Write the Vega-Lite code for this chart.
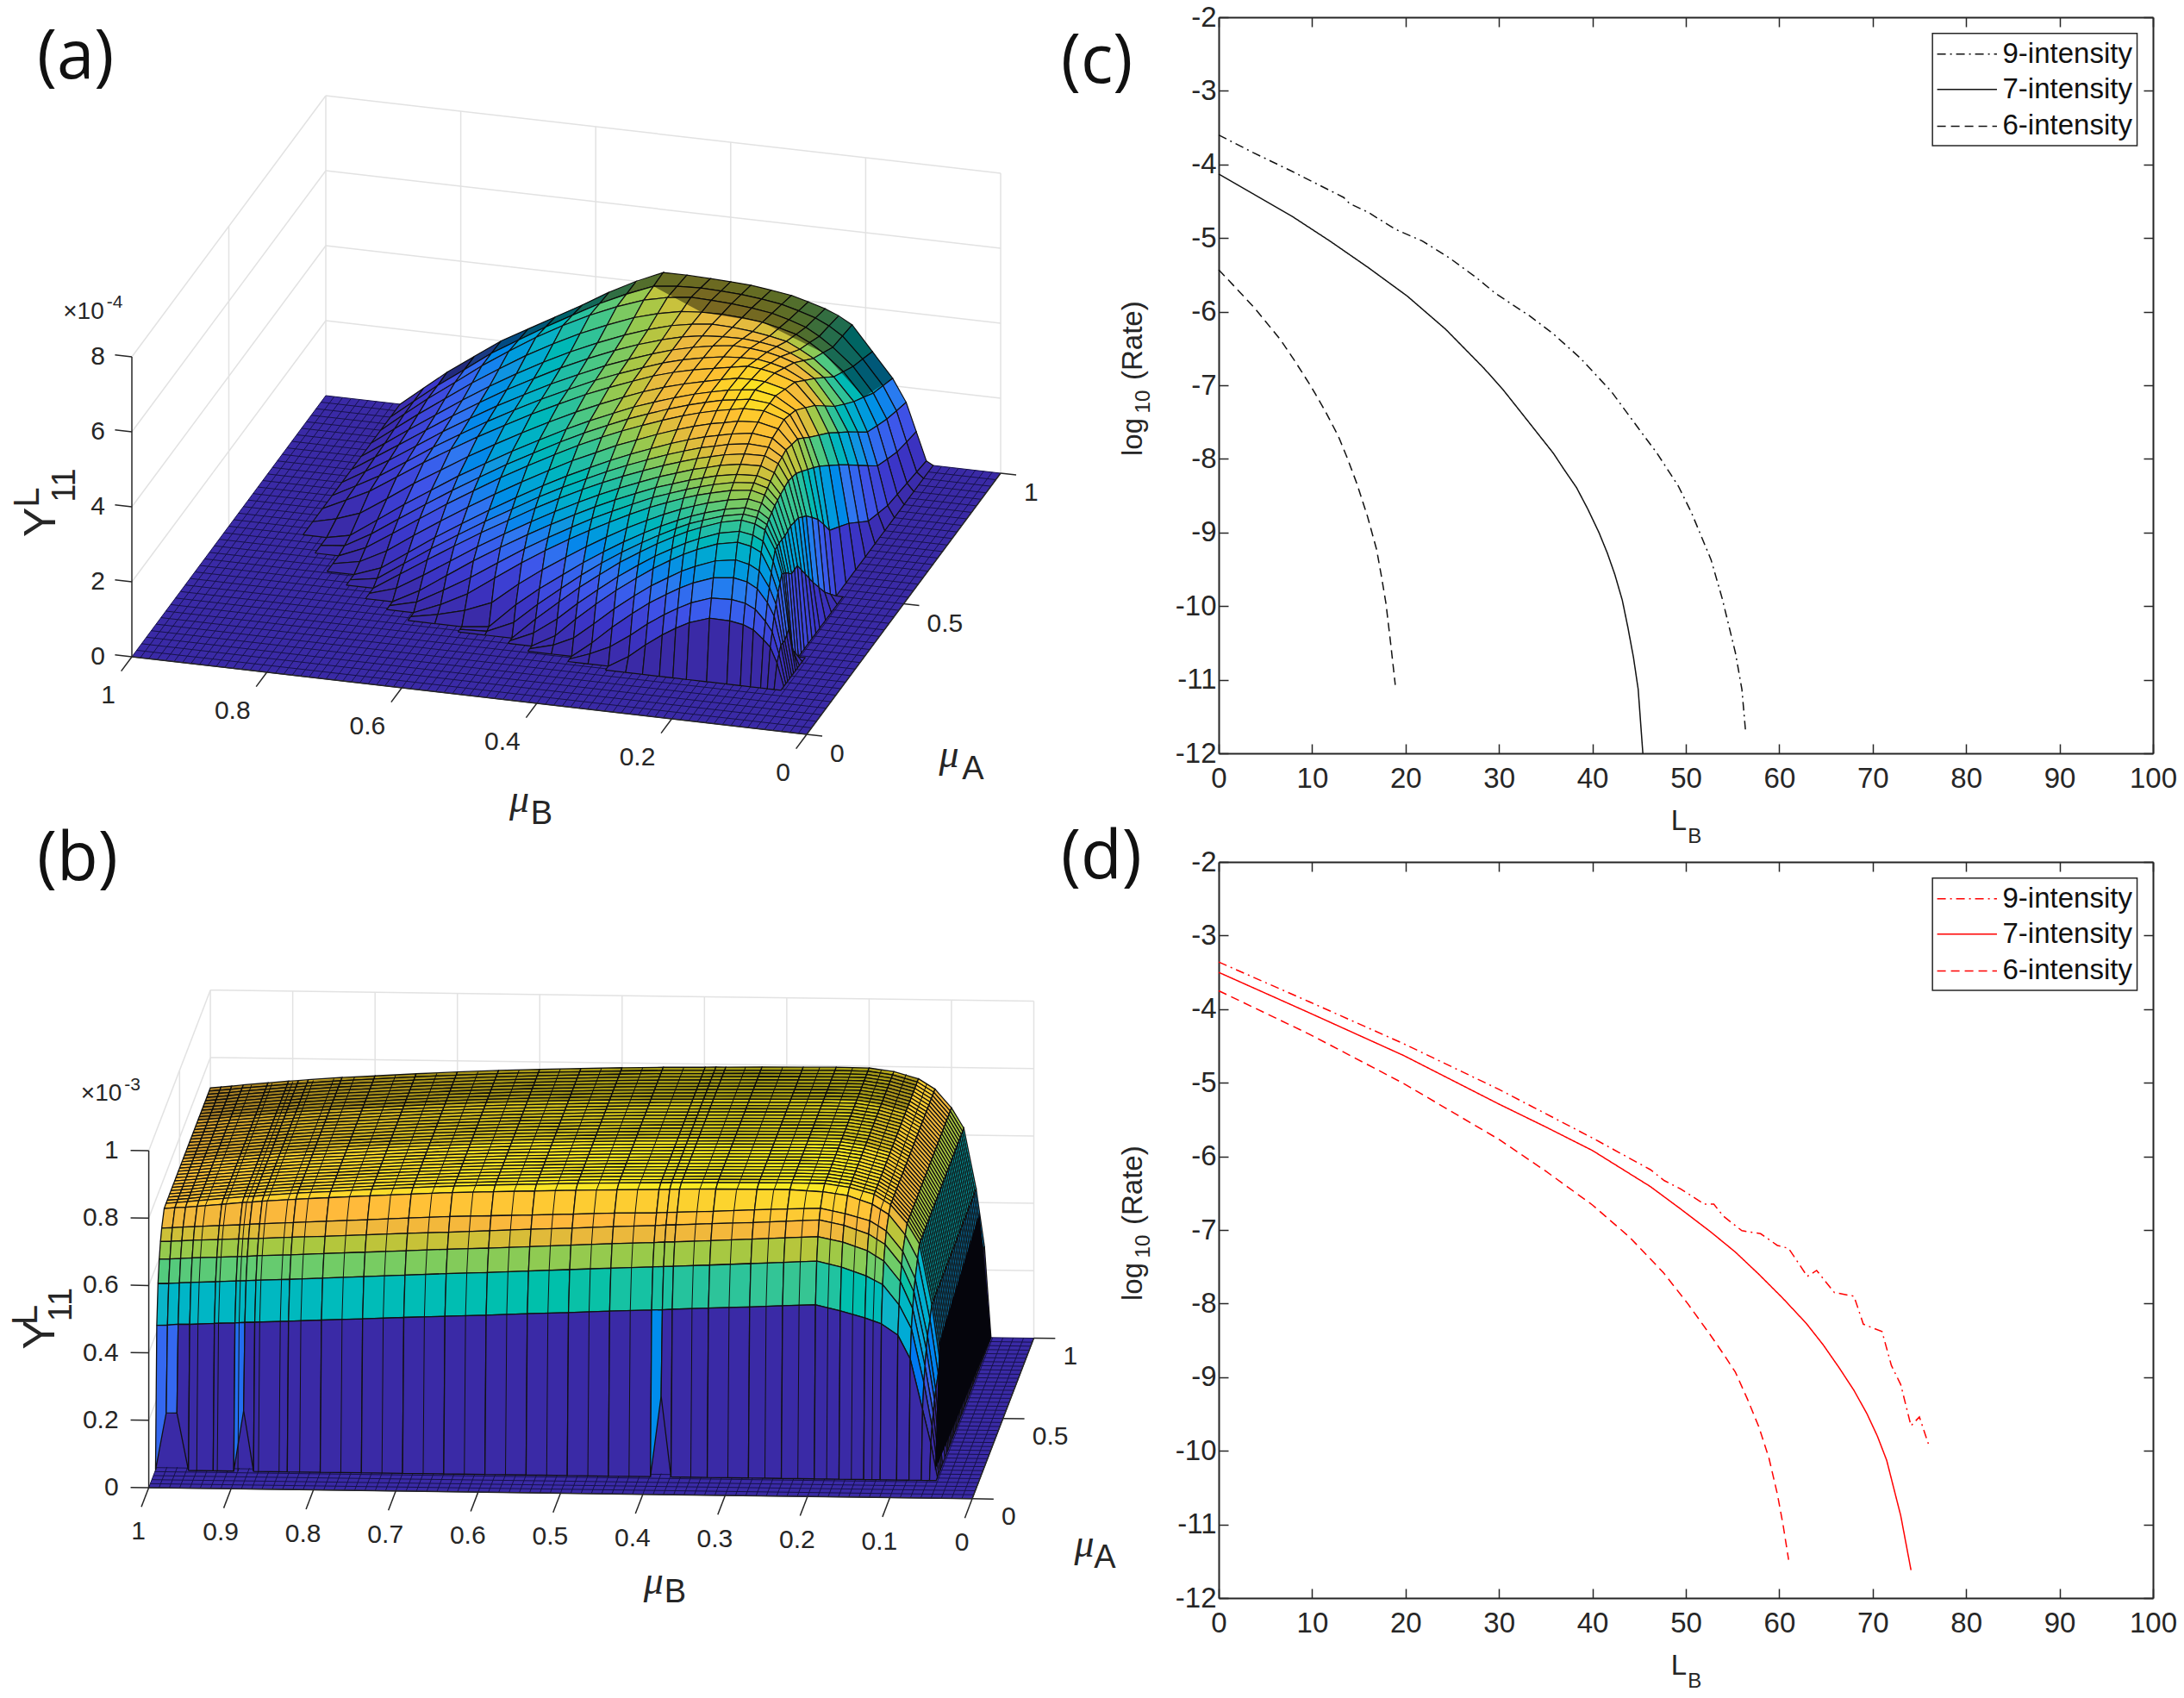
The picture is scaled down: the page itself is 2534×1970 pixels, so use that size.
{
"$schema":"https://vega.github.io/schema/vega-lite/v6.json",
"background":"white",
"padding":{"left":0,"top":4,"right":0,"bottom":0},
"bounds":"flush",
"columns":2,
"spacing":{"column":0,"row":126},
"resolve":{"scale":{"fill":"independent"}},
"config":{"view":{"stroke":null},"text":{"font":"Liberation Sans","color":"#262626"},
"axis":{"grid":false,"title":null,"tickSize":-11,"tickColor":"#262626","tickWidth":1.5,"domainColor":"#262626","domainWidth":2,"labelFont":"Liberation Sans","labelFontSize":33,"labelColor":"#262626","labelOverlap":false,"labelFlush":false,"labelExpr":"datum.value"},
"title":{"font":"Open Sans","fontSize":78,"fontWeight":"normal","color":"#111111","anchor":"start","frame":"group","baseline":"alphabetic","offset":0}},
"datasets":{
"meshB":[{"v":[0.0125,0.025,0.0375,0.05,0.0625,0.075,0.0875,0.1,0.1125,0.125,0.1375,0.15,0.1625,0.175,0.1875,0.2,0.2125,0.225,0.2375,0.25,0.2625,0.275,0.2875,0.3,0.3125,0.325,0.3375,0.35,0.3625,0.375,0.3875,0.4,0.4125,0.425,0.4375,0.45,0.4625,0.475,0.4875,0.5,0.5125,0.525,0.5375,0.55,0.5625,0.575,0.5875,0.6,0.6125,0.625,0.6375,0.65,0.6625,0.675,0.6875,0.7,0.7125,0.725,0.7375,0.75,0.7625,0.775,0.7875,0.8,0.8125,0.825,0.8375,0.85,0.8625,0.875,0.8875,0.9,0.9125,0.925,0.9375,0.95,0.9625,0.975,0.9875]}],
"meshA":[{"v":[0.025,0.05,0.075,0.1,0.125,0.15,0.175,0.2,0.225,0.25,0.275,0.3,0.325,0.35,0.375,0.4,0.425,0.45,0.475,0.5,0.525,0.55,0.575,0.6,0.625,0.65,0.675,0.7,0.725,0.75,0.775,0.8,0.825,0.85,0.875,0.9,0.925,0.95,0.975]}],
"curvesC":[
{"s":"9","L":0,"r":-3.6},{"s":"9","L":3.7,"r":-3.84},{"s":"9","L":7.8,"r":-4.09},{"s":"9","L":13.4,"r":-4.45},{"s":"9","L":14,"r":-4.53},{"s":"9","L":16,"r":-4.65},{"s":"9","L":18.9,"r":-4.88},{"s":"9","L":21.8,"r":-5.04},{"s":"9","L":24.7,"r":-5.27},{"s":"9","L":27.6,"r":-5.54},{"s":"9","L":29.6,"r":-5.75},{"s":"9","L":33.3,"r":-6.06},{"s":"9","L":35.8,"r":-6.3},{"s":"9","L":38.7,"r":-6.63},{"s":"9","L":42,"r":-7.08},{"s":"9","L":44.9,"r":-7.58},{"s":"9","L":46.9,"r":-7.92},{"s":"9","L":49.2,"r":-8.37},{"s":"9","L":50.6,"r":-8.73},{"s":"9","L":52.7,"r":-9.37},{"s":"9","L":53.9,"r":-9.9},{"s":"9","L":55.3,"r":-10.63},{"s":"9","L":56,"r":-11.13},{"s":"9","L":56.4,"r":-11.71},
{"s":"7","L":0,"r":-4.13},{"s":"7","L":3.7,"r":-4.4},{"s":"7","L":7.8,"r":-4.7},{"s":"7","L":11.9,"r":-5.04},{"s":"7","L":16,"r":-5.4},{"s":"7","L":20.2,"r":-5.79},{"s":"7","L":24.3,"r":-6.24},{"s":"7","L":28.4,"r":-6.77},{"s":"7","L":30.5,"r":-7.07},{"s":"7","L":32.5,"r":-7.39},{"s":"7","L":35.8,"r":-7.92},{"s":"7","L":37,"r":-8.15},{"s":"7","L":38.3,"r":-8.39},{"s":"7","L":39.5,"r":-8.68},{"s":"7","L":40.7,"r":-9},{"s":"7","L":41.6,"r":-9.28},{"s":"7","L":42.4,"r":-9.57},{"s":"7","L":43.2,"r":-9.92},{"s":"7","L":43.8,"r":-10.29},{"s":"7","L":44.4,"r":-10.7},{"s":"7","L":44.9,"r":-11.13},{"s":"7","L":45.4,"r":-12},
{"s":"6","L":0,"r":-5.43},{"s":"6","L":3.7,"r":-5.93},{"s":"6","L":5,"r":-6.13},{"s":"6","L":6.6,"r":-6.38},{"s":"6","L":8.2,"r":-6.68},{"s":"6","L":9.9,"r":-7.02},{"s":"6","L":11.4,"r":-7.35},{"s":"6","L":12.8,"r":-7.69},{"s":"6","L":13.8,"r":-8},{"s":"6","L":14.8,"r":-8.34},{"s":"6","L":15.9,"r":-8.77},{"s":"6","L":16.9,"r":-9.23},{"s":"6","L":17.4,"r":-9.58},{"s":"6","L":17.9,"r":-9.96},{"s":"6","L":18.4,"r":-10.5},{"s":"6","L":18.9,"r":-11.07}],
"curvesD":[
{"s":"9","L":0,"r":-3.36},{"s":"9","L":9.7,"r":-3.9},{"s":"9","L":19.8,"r":-4.47},{"s":"9","L":30,"r":-5.09},{"s":"9","L":40,"r":-5.75},{"s":"9","L":46.2,"r":-6.18},{"s":"9","L":47.7,"r":-6.33},{"s":"9","L":49.4,"r":-6.44},{"s":"9","L":52,"r":-6.65},{"s":"9","L":53,"r":-6.65},{"s":"9","L":54,"r":-6.81},{"s":"9","L":56,"r":-7.01},{"s":"9","L":58,"r":-7.05},{"s":"9","L":59.8,"r":-7.21},{"s":"9","L":61,"r":-7.25},{"s":"9","L":63,"r":-7.63},{"s":"9","L":64,"r":-7.55},{"s":"9","L":65.9,"r":-7.85},{"s":"9","L":68,"r":-7.9},{"s":"9","L":69,"r":-8.28},{"s":"9","L":71,"r":-8.38},{"s":"9","L":72,"r":-8.84},{"s":"9","L":73,"r":-9.1},{"s":"9","L":74.1,"r":-9.66},{"s":"9","L":75,"r":-9.54},{"s":"9","L":76,"r":-9.92},
{"s":"7","L":0,"r":-3.5},{"s":"7","L":9.7,"r":-4.05},{"s":"7","L":19.8,"r":-4.63},{"s":"7","L":30,"r":-5.29},{"s":"7","L":35,"r":-5.6},{"s":"7","L":40,"r":-5.92},{"s":"7","L":46.2,"r":-6.41},{"s":"7","L":49.5,"r":-6.72},{"s":"7","L":52.7,"r":-7.03},{"s":"7","L":55.3,"r":-7.3},{"s":"7","L":57.8,"r":-7.6},{"s":"7","L":60.4,"r":-7.93},{"s":"7","L":62.9,"r":-8.27},{"s":"7","L":64.7,"r":-8.56},{"s":"7","L":66.4,"r":-8.87},{"s":"7","L":68,"r":-9.18},{"s":"7","L":69.4,"r":-9.5},{"s":"7","L":70.5,"r":-9.8},{"s":"7","L":71.5,"r":-10.13},{"s":"7","L":73,"r":-10.88},{"s":"7","L":74.1,"r":-11.62},
{"s":"6","L":0,"r":-3.75},{"s":"6","L":9.7,"r":-4.34},{"s":"6","L":19.8,"r":-5.01},{"s":"6","L":30,"r":-5.77},{"s":"6","L":35,"r":-6.2},{"s":"6","L":40,"r":-6.66},{"s":"6","L":44,"r":-7.1},{"s":"6","L":47.6,"r":-7.58},{"s":"6","L":50.2,"r":-8},{"s":"6","L":52.7,"r":-8.44},{"s":"6","L":54,"r":-8.68},{"s":"6","L":55.3,"r":-8.93},{"s":"6","L":56.6,"r":-9.3},{"s":"6","L":57.8,"r":-9.67},{"s":"6","L":58.9,"r":-10.1},{"s":"6","L":59.8,"r":-10.59},{"s":"6","L":60.4,"r":-11},{"s":"6","L":61,"r":-11.48}],
"legendLines":[{"s":"9","L":76.9,"r":-2.5},{"s":"9","L":83.3,"r":-2.5},{"s":"7","L":76.9,"r":-2.98},{"s":"7","L":83.3,"r":-2.98},{"s":"6","L":76.9,"r":-3.48},{"s":"6","L":83.3,"r":-3.48}],
"legendText":[{"t":"9-intensity","L":83.9,"r":-2.5},{"t":"7-intensity","L":83.9,"r":-2.98},{"t":"6-intensity","L":83.9,"r":-3.48}],
"surfA":[
{"a":1,"z":[0,0.5,1,1.5,2,2.4,2.8,3.2,3.63,4,4.32,4.32,4.3,4.28,4.25,4.18,4.1,3.98,3.85,3.7,3.5,2.85,2.2,1.6,0.85,0.1,0,0,0]},
{"a":0.95,"z":[0,0.5,0.99,1.5,2.02,2.45,2.88,3.28,3.67,4.01,4.3,4.37,4.4,4.38,4.35,4.29,4.21,4.09,3.95,3.78,3.55,3,2.35,1.72,0.92,0.15,0,0,0]},
{"a":0.9,"z":[0,0.5,0.99,1.5,2.03,2.5,2.95,3.35,3.71,4.02,4.28,4.42,4.5,4.48,4.45,4.4,4.32,4.2,4.05,3.85,3.6,3.15,2.5,1.85,1,0.2,0,0,0]},
{"a":0.85,"z":[0,0.46,0.92,1.42,1.92,2.38,2.82,3.21,3.57,3.88,4.16,4.34,4.47,4.51,4.52,4.49,4.43,4.33,4.21,4.03,3.8,3.36,2.74,2.02,1.16,0.25,0,0,0]},
{"a":0.8,"z":[0,0.42,0.85,1.33,1.81,2.26,2.68,3.07,3.43,3.75,4.04,4.26,4.44,4.54,4.6,4.58,4.53,4.46,4.37,4.2,4,3.57,2.97,2.2,1.33,0.3,0,0,0]},
{"a":0.75,"z":[0,0.4,0.8,1.27,1.74,2.18,2.6,2.98,3.35,3.68,3.98,4.21,4.41,4.55,4.64,4.68,4.69,4.65,4.58,4.45,4.29,3.9,3.25,2.55,1.68,0.44,0,0,0]},
{"a":0.7,"z":[0,0.37,0.74,1.2,1.67,2.1,2.52,2.9,3.27,3.6,3.92,4.16,4.38,4.55,4.68,4.78,4.85,4.83,4.78,4.7,4.58,4.22,3.54,2.9,2.04,0.58,0,0,0]},
{"a":0.65,"z":[0,0.33,0.67,1.13,1.6,2.03,2.45,2.84,3.21,3.55,3.88,4.13,4.36,4.55,4.7,4.81,4.9,4.93,4.94,4.88,4.79,4.52,3.9,3.23,2.4,0.9,0,0,0]},
{"a":0.6,"z":[0,0.3,0.61,1.07,1.54,1.97,2.39,2.78,3.16,3.51,3.85,4.11,4.35,4.55,4.71,4.84,4.94,5.02,5.1,5.07,5,4.82,4.26,3.57,2.75,1.22,0,0,0]},
{"a":0.55,"z":[0,0.15,0.37,0.84,1.33,1.77,2.21,2.62,3.01,3.38,3.73,4.01,4.27,4.48,4.66,4.81,4.94,5.04,5.13,5.14,5.12,4.98,4.55,3.86,3.08,1.48,0,0,0]},
{"a":0.5,"z":[0,0,0.13,0.62,1.12,1.58,2.04,2.46,2.87,3.25,3.62,3.92,4.19,4.42,4.61,4.79,4.95,5.06,5.16,5.21,5.25,5.15,4.83,4.15,3.41,1.73,0,0,0]},
{"a":0.47,"z":[0,0,0.06,0.46,0.94,1.41,1.87,2.3,2.72,3.11,3.49,3.8,4.08,4.31,4.51,4.7,4.87,4.99,5.1,5.15,5.21,5.16,4.92,4.34,3.58,2.1,0.26,0,0]},
{"a":0.44,"z":[0,0,0,0.3,0.76,1.24,1.71,2.15,2.58,2.98,3.36,3.68,3.97,4.2,4.41,4.61,4.79,4.92,5.03,5.1,5.17,5.17,5,4.52,3.74,2.44,0.52,0,0]},
{"a":0.41,"z":[0,0,0,0.14,0.51,1,1.47,1.92,2.35,2.76,3.15,3.48,3.77,4.02,4.23,4.44,4.63,4.77,4.89,4.96,5.04,5.08,4.96,4.58,3.9,2.7,0.86,0,0]},
{"a":0.38,"z":[0,0,0,0,0.26,0.75,1.24,1.69,2.13,2.55,2.95,3.28,3.58,3.83,4.06,4.27,4.47,4.62,4.75,4.83,4.91,4.99,4.92,4.65,4.05,2.95,1.2,0,0]},
{"a":0.36,"z":[0,0,0,0,0.12,0.6,1.08,1.53,1.97,2.38,2.79,3.12,3.42,3.67,3.9,4.11,4.31,4.46,4.6,4.68,4.77,4.85,4.82,4.6,4.09,3.06,1.45,0,0]},
{"a":0.34,"z":[0,0,0,0,0,0.46,0.92,1.37,1.81,2.22,2.63,2.96,3.27,3.52,3.75,3.96,4.16,4.31,4.45,4.54,4.63,4.72,4.73,4.56,4.13,3.18,1.7,0,0]},
{"a":0.32,"z":[0,0,0,0,0,0.22,0.65,1.11,1.57,2,2.41,2.75,3.07,3.33,3.57,3.79,4,4.15,4.3,4.39,4.49,4.58,4.6,4.46,4.09,3.21,1.95,0,0]},
{"a":0.3,"z":[0,0,0,0,0,0,0.38,0.86,1.34,1.78,2.2,2.55,2.88,3.15,3.4,3.63,3.85,4,4.15,4.25,4.35,4.45,4.48,4.37,4.05,3.24,2.2,0,0]},
{"a":0.285,"z":[0,0,0,0,0,0,0.18,0.58,1,1.47,1.93,2.3,2.65,2.94,3.2,3.45,3.69,3.85,4.01,4.12,4.22,4.34,4.39,4.29,4,3.21,2.2,0,0]},
{"a":0.27,"z":[0,0,0,0,0,0,0,0.3,0.67,1.17,1.66,2.06,2.43,2.73,3.01,3.28,3.53,3.71,3.88,4,4.1,4.23,4.3,4.21,3.96,3.18,2.19,0,0]},
{"a":0.255,"z":[0,0,0,0,0,0,0,0.14,0.33,0.62,1.2,1.65,2.06,2.4,2.72,3.02,3.29,3.5,3.69,3.82,3.94,4.08,4.17,4.1,3.88,3.19,2.31,0.2,0]},
{"a":0.24,"z":[0,0,0,0,0,0,0,0,0,0.08,0.75,1.25,1.7,2.08,2.43,2.76,3.06,3.29,3.5,3.65,3.78,3.94,4.04,3.99,3.81,3.2,2.43,0.4,0]},
{"a":0.23,"z":[0,0,0,0,0,0,0,0,0,0.03,0.35,0.9,1.4,1.82,2.2,2.55,2.87,3.12,3.35,3.52,3.65,3.83,3.94,3.89,3.73,3.18,2.48,0.74,0]},
{"a":0.22,"z":[0,0,0,0,0,0,0,0,0,0,0,0.58,1.11,1.56,1.96,2.35,2.69,2.96,3.2,3.38,3.53,3.73,3.85,3.79,3.66,3.16,2.54,1.08,0]},
{"a":0.21,"z":[0,0,0,0,0,0,0,0,0,0,0,0.28,0.73,1.2,1.63,2.04,2.41,2.7,2.95,3.14,3.3,3.51,3.62,3.56,3.43,2.92,2.36,1,0]},
{"a":0.2,"z":[0,0,0,0,0,0,0,0,0,0,0,0,0.35,0.85,1.31,1.74,2.13,2.44,2.71,2.91,3.08,3.29,3.4,3.33,3.2,2.69,2.18,0.92,0]},
{"a":0.19,"z":[0,0,0,0,0,0,0,0,0,0,0,0,0.17,0.42,0.86,1.32,1.73,2.05,2.32,2.53,2.7,2.91,3,2.92,2.78,2.36,1.93,0.93,0]},
{"a":0.18,"z":[0,0,0,0,0,0,0,0,0,0,0,0,0,0,0.42,0.9,1.33,1.66,1.94,2.15,2.33,2.53,2.59,2.52,2.37,2.03,1.69,0.94,0]},
{"a":0.17,"z":[0,0,0,0,0,0,0,0,0,0,0,0,0,0,0.2,0.45,0.82,1.17,1.47,1.68,1.87,2.06,2.08,2.02,1.89,1.6,1.34,0.77,0]},
{"a":0.16,"z":[0,0,0,0,0,0,0,0,0,0,0,0,0,0,0,0,0.32,0.68,1,1.22,1.41,1.59,1.58,1.52,1.41,1.18,1,0.6,0]},
{"a":0.145,"z":[0,0,0,0,0,0,0,0,0,0,0,0,0,0,0,0,0,0,0,0,0,0,0,0,0,0,0,0,0]}],
"surfB":[
{"a":[1,0.98,0.96,0.94,0.92,0.9,0.88,0.86,0.84,0.82,0.8,0.78,0.76,0.74,0.72,0.7,0.68,0.66,0.64,0.62,0.6,0.58,0.56,0.54,0.52,0.5,0.48,0.46,0.44,0.42,0.4,0.38,0.36,0.34,0.32,0.3,0.28],"z":[0.71,0.713,0.716,0.72,0.727,0.733,0.735,0.738,0.746,0.752,0.76,0.767,0.773,0.778,0.782,0.786,0.789,0.791,0.792,0.792,0.794,0.795,0.796,0.795,0.785,0.765,0.735,0.68,0.62,0.44,0.27,0,0]},
{"a":[0.25],"z":[0.709,0.712,0.714,0.717,0.724,0.73,0.732,0.735,0.742,0.748,0.755,0.762,0.768,0.772,0.776,0.78,0.783,0.785,0.786,0.787,0.789,0.79,0.79,0.785,0.775,0.75,0.72,0.66,0.59,0.41,0.25,0,0]},
{"a":[0.21],"z":[0.67,0.672,0.674,0.676,0.68,0.683,0.685,0.687,0.692,0.697,0.703,0.71,0.716,0.72,0.724,0.728,0.733,0.735,0.737,0.738,0.742,0.748,0.752,0.755,0.74,0.72,0.69,0.63,0.55,0.38,0.22,0,0]},
{"a":[0.19],"z":[0.64,0.641,0.643,0.645,0.648,0.651,0.652,0.653,0.658,0.662,0.668,0.674,0.679,0.685,0.691,0.696,0.702,0.707,0.709,0.71,0.715,0.72,0.725,0.73,0.715,0.69,0.66,0.6,0.52,0.35,0.2,0,0]},
{"a":[0.17],"z":[0.597,0.598,0.6,0.602,0.605,0.608,0.609,0.611,0.615,0.62,0.626,0.632,0.638,0.643,0.649,0.655,0.661,0.666,0.668,0.669,0.674,0.68,0.685,0.69,0.675,0.65,0.62,0.56,0.48,0.31,0.17,0,0]},
{"a":[0.15],"z":[0.534,0.535,0.537,0.539,0.542,0.545,0.546,0.548,0.552,0.557,0.563,0.569,0.575,0.58,0.586,0.592,0.598,0.603,0.605,0.606,0.611,0.617,0.622,0.627,0.61,0.585,0.56,0.5,0.43,0.27,0.14,0,0]},
{"a":[0.13],"z":[0.42,0.421,0.424,0.424,0.428,0.43,0.432,0.433,0.437,0.442,0.447,0.453,0.458,0.463,0.469,0.474,0.48,0.485,0.486,0.488,0.493,0.498,0.503,0.507,0.49,0.47,0.453,0.42,0.35,0.2,0.1,0,0]},
{"a":[0.11],"z":[0,0.17,0.17,0,0,0,0.18,0,0,0,0,0,0,0,0,0,0,0,0.24,0,0,0,0,0,0,0,0,0,0,0,0,0,0]}],
"linesB":[
{"b":0.95,"z":[0,0.425,0.54,0.603,0.646,0.677,0.719,0.72]},{"b":0.925,"z":[0,0.428,0.543,0.606,0.649,0.68,0.724,0.726]},{"b":0.9,"z":[0,0.431,0.546,0.609,0.651,0.684,0.729,0.731]},{"b":0.875,"z":[0,0.434,0.548,0.611,0.654,0.687,0.733,0.736]},{"b":0.85,"z":[0,0.436,0.551,0.614,0.657,0.69,0.738,0.742]},{"b":0.825,"z":[0,0.439,0.554,0.617,0.66,0.694,0.743,0.747]},{"b":0.775,"z":[0,0.445,0.56,0.623,0.665,0.7,0.751,0.755]},{"b":0.725,"z":[0,0.45,0.566,0.629,0.671,0.706,0.757,0.762]},{"b":0.675,"z":[0,0.455,0.572,0.634,0.676,0.711,0.763,0.768]},{"b":0.625,"z":[0,0.461,0.578,0.64,0.682,0.717,0.769,0.775]},{"b":0.575,"z":[0,0.466,0.583,0.646,0.688,0.722,0.774,0.78]},{"b":0.525,"z":[0,0.471,0.589,0.652,0.693,0.726,0.778,0.784]},{"b":0.475,"z":[0,0.477,0.595,0.658,0.699,0.73,0.781,0.787]},{"b":0.425,"z":[0,0.482,0.6,0.663,0.704,0.734,0.784,0.79]},{"b":0.35,"z":[0,0.491,0.609,0.672,0.713,0.74,0.785,0.793]},{"b":0.305,"z":[0,0.496,0.614,0.678,0.718,0.745,0.785,0.794]},{"b":0.26,"z":[0,0.501,0.62,0.684,0.724,0.75,0.785,0.795]},{"b":0.22,"z":[0,0.504,0.624,0.687,0.727,0.753,0.785,0.795]},{"b":0.185,"z":[0,0.497,0.618,0.683,0.723,0.748,0.78,0.79]},{"b":0.155,"z":[0,0.478,0.598,0.663,0.703,0.733,0.763,0.778]},{"b":0.13,"z":[0,0.46,0.57,0.635,0.675,0.705,0.735,0.75]}]
},
"concat":[
{"width":1414,"height":854,"title":{"text":"(a)","dx":43,"dy":91},
"encoding":{"x":{"field":"sx","type":"quantitative","axis":null,"scale":{"domain":[0,1414],"nice":false,"zero":false}},"y":{"field":"sy","type":"quantitative","axis":null,"scale":{"domain":[873,19],"nice":false,"zero":false}}},
"layer":[
{"data":{"values":[{"b":[1,0],"a":[1,1],"z":[2,2]},{"b":[1,0],"a":[1,1],"z":[4,4]},{"b":[1,0],"a":[1,1],"z":[6,6]},{"b":[1,0],"a":[1,1],"z":[8,8]},{"b":[1,1],"a":[0,1],"z":[2,2]},{"b":[1,1],"a":[0,1],"z":[4,4]},{"b":[1,1],"a":[0,1],"z":[6,6]},{"b":[1,1],"a":[0,1],"z":[8,8]},{"b":[1,1],"a":[1,1],"z":[0,8]},{"b":[0.8,0.8],"a":[1,1],"z":[0,8]},{"b":[0.6,0.6],"a":[1,1],"z":[0,8]},{"b":[0.4,0.4],"a":[1,1],"z":[0,8]},{"b":[0.2,0.2],"a":[1,1],"z":[0,8]},{"b":[0,0],"a":[1,1],"z":[0,8]},{"b":[1,1],"a":[0.5,0.5],"z":[0,8]}]},
"transform":[{"window":[{"op":"row_number","as":"id"}]},{"flatten":["b","a","z"]},{"calculate":"936-783*datum.b+225*datum.a","as":"sx"},{"calculate":"851-90*datum.b-303*datum.a-43.5*datum.z","as":"sy"}],
"mark":{"type":"line","stroke":"#e2e2e2","strokeWidth":1.5},"encoding":{"detail":{"field":"id"}}},
{"data":{"values":[{"b":[1,0,0,1,1],"a":[0,0,1,1,0],"z":[0,0,0,0,0],"k":[0,1,2,3,4]}]},
"transform":[{"flatten":["b","a","z","k"]},{"calculate":"936-783*datum.b+225*datum.a","as":"sx"},{"calculate":"851-90*datum.b-303*datum.a-43.5*datum.z","as":"sy"}],
"mark":{"type":"line","fill":"#3a2aa6","stroke":"#16124a","strokeWidth":1},"encoding":{"order":{"field":"k"}}},
{"data":{"name":"meshB"},"transform":[{"flatten":["v"]},{"calculate":"[0,1]","as":"a"},{"flatten":["a"]},{"calculate":"936-783*datum.v+225*datum.a","as":"sx"},{"calculate":"851-90*datum.v-303*datum.a","as":"sy"}],
"mark":{"type":"line","stroke":"#16124a","strokeWidth":1},"encoding":{"detail":{"field":"v"}}},
{"data":{"name":"meshA"},"transform":[{"flatten":["v"]},{"calculate":"[0,1]","as":"b"},{"flatten":["b"]},{"calculate":"936-783*datum.b+225*datum.v","as":"sx"},{"calculate":"851-90*datum.b-303*datum.v","as":"sy"}],
"mark":{"type":"line","stroke":"#16124a","strokeWidth":1},"encoding":{"detail":{"field":"v"}}},
{"data":{"name":"surfA"},
"transform":[{"window":[{"op":"lag","field":"a","as":"a1"},{"op":"lag","field":"z","as":"zb"}]},{"filter":"datum.a1 != null"},{"calculate":"[0.89,0.855,0.82,0.78,0.74,0.7,0.66,0.62,0.58,0.54,0.5,0.465,0.43,0.4,0.37,0.34,0.31,0.285,0.26,0.24,0.22,0.19,0.16,0.14,0.125,0.11,0.1,0.09,0.08]","as":"bs"},{"calculate":"slice(datum.bs,0,-1)","as":"b0"},{"calculate":"slice(datum.bs,1)","as":"b1"},{"calculate":"slice(datum.z,0,-1)","as":"f0"},{"calculate":"slice(datum.z,1)","as":"f1"},{"calculate":"slice(datum.zb,0,-1)","as":"g0"},{"calculate":"slice(datum.zb,1)","as":"g1"},{"flatten":["b0","b1","f0","f1","g0","g1"]},{"filter":"datum.f0+datum.f1+datum.g0+datum.g1>0"},{"window":[{"op":"row_number","as":"id"}]},{"calculate":"(datum.f0+datum.f1)/2","as":"v"},{"calculate":"[datum.b0,datum.b1,datum.b1,datum.b0,datum.b0]","as":"pb"},{"calculate":"[datum.a,datum.a,datum.a1,datum.a1,datum.a]","as":"pa"},{"calculate":"[datum.f0,datum.f1,datum.g1,datum.g0,datum.f0]","as":"pz"},{"calculate":"[0,1,2,3,4]","as":"k"},{"flatten":["pb","pa","pz","k"]},{"calculate":"936-783*datum.pb+225*datum.pa","as":"sx"},{"calculate":"851-90*datum.pb-303*datum.pa-43.5*datum.pz","as":"sy"}],
"mark":{"type":"line","stroke":"#111111","strokeWidth":1.2},
"encoding":{"detail":{"field":"id"},"order":{"field":"k"},"fill":{"field":"v","type":"quantitative","legend":null,"scale":{"domain":[0,0.7,1.4,2,2.5,3,3.4,3.8,4.2,4.6,5,5.3],"range":["#3a2aa6","#3b35c8","#3e55ea","#2f78f0","#1596e0","#0cb0c8","#20bca8","#50c880","#a0c84a","#ecb940","#fdc030","#f8ec20"]}}}},
{"data":{"values":[{"b":[0.82,0.74,0.66,0.58,0.5,0.43,0.37,0.31,0.26,0.22,0.19,0.16,0.16,0.22,0.31,0.4,0.5,0.58,0.66,0.74,0.82],"a":[1,1,1,1,1,1,1,1,1,1,1,1,0.85,0.85,0.85,0.85,0.95,0.95,0.95,0.95,0.95],"z":[1,2,2.8,3.63,4.32,4.3,4.25,4.1,3.85,3.5,2.85,2.2,2.74,3.8,4.43,4.51,4.3,3.67,2.88,2.02,0.99],"k":[0,1,2,3,4,5,6,7,8,9,10,11,12,13,14,15,16,17,18,19,20]}]},
"transform":[{"flatten":["b","a","z","k"]},{"calculate":"936-783*datum.b+225*datum.a","as":"sx"},{"calculate":"851-90*datum.b-303*datum.a-43.5*datum.z","as":"sy"}],
"mark":{"type":"line","fill":"#000000","fillOpacity":0.45,"stroke":null},"encoding":{"order":{"field":"k"}}},
{"data":{"values":[{"b":[1,1],"a":[0,0],"z":[0,8]},{"b":[1,0],"a":[0,0],"z":[0,0]},{"b":[0,0],"a":[0,1],"z":[0,0]},{"b":[1,1.025],"a":[0,0],"z":[0,0]},{"b":[1,1.025],"a":[0,0],"z":[2,2]},{"b":[1,1.025],"a":[0,0],"z":[4,4]},{"b":[1,1.025],"a":[0,0],"z":[6,6]},{"b":[1,1.025],"a":[0,0],"z":[8,8]},{"b":[1,1],"a":[0,-0.055],"z":[0,0]},{"b":[0.8,0.8],"a":[0,-0.055],"z":[0,0]},{"b":[0.6,0.6],"a":[0,-0.055],"z":[0,0]},{"b":[0.4,0.4],"a":[0,-0.055],"z":[0,0]},{"b":[0.2,0.2],"a":[0,-0.055],"z":[0,0]},{"b":[0,0],"a":[0,-0.055],"z":[0,0]},{"b":[0,-0.023],"a":[0,0],"z":[0,0]},{"b":[0,-0.023],"a":[0.5,0.5],"z":[0,0]},{"b":[0,-0.023],"a":[1,1],"z":[0,0]}]},
"transform":[{"window":[{"op":"row_number","as":"id"}]},{"flatten":["b","a","z"]},{"calculate":"936-783*datum.b+225*datum.a","as":"sx"},{"calculate":"851-90*datum.b-303*datum.a-43.5*datum.z","as":"sy"}],
"mark":{"type":"line","stroke":"#262626","strokeWidth":1.5},"encoding":{"detail":{"field":"id"}}},
{"data":{"values":[{"g":"zt","b":1,"a":0,"z":0,"t":"0"},{"g":"zt","b":1,"a":0,"z":2,"t":"2"},{"g":"zt","b":1,"a":0,"z":4,"t":"4"},{"g":"zt","b":1,"a":0,"z":6,"t":"6"},{"g":"zt","b":1,"a":0,"z":8,"t":"8"},{"g":"bt","b":1,"a":0,"z":0,"t":"1"},{"g":"bt","b":0.8,"a":0,"z":0,"t":"0.8"},{"g":"bt","b":0.6,"a":0,"z":0,"t":"0.6"},{"g":"bt","b":0.4,"a":0,"z":0,"t":"0.4"},{"g":"bt","b":0.2,"a":0,"z":0,"t":"0.2"},{"g":"bt","b":0,"a":0,"z":0,"t":"0"},{"g":"at","b":0,"a":0,"z":0,"t":"0"},{"g":"at","b":0,"a":0.5,"z":0,"t":"0.5"},{"g":"at","b":0,"a":1,"z":0,"t":"1"},{"g":"e1","b":1,"a":0,"z":8,"t":"×10"},{"g":"e2","b":1,"a":0,"z":8,"t":"-4"},{"g":"Y","b":1,"a":0,"z":4,"t":"Y"},{"g":"L","b":1,"a":0,"z":4,"t":"L"},{"g":"n","b":1,"a":0,"z":4,"t":"11"},{"g":"m1","b":0.5,"a":0,"z":0,"t":"μ"},{"g":"m2","b":0.5,"a":0,"z":0,"t":"B"},{"g":"m3","b":0,"a":0,"z":0,"t":"μ"},{"g":"m4","b":0,"a":0,"z":0,"t":"A"}]},
"transform":[{"calculate":"936-783*datum.b+225*datum.a","as":"sx"},{"calculate":"851-90*datum.b-303*datum.a-43.5*datum.z","as":"sy"}],
"encoding":{"text":{"field":"t"}},
"layer":[
{"transform":[{"filter":"datum.g=='zt'"}],"mark":{"type":"text","align":"right","dx":-31,"fontSize":30}},
{"transform":[{"filter":"datum.g=='bt'"}],"mark":{"type":"text","align":"right","dx":-19,"dy":45,"fontSize":30}},
{"transform":[{"filter":"datum.g=='at'"}],"mark":{"type":"text","align":"left","dx":27,"dy":23,"fontSize":30}},
{"transform":[{"filter":"datum.g=='e1'"}],"mark":{"type":"text","dx":-56,"dy":-52,"fontSize":28}},
{"transform":[{"filter":"datum.g=='e2'"}],"mark":{"type":"text","dx":-20,"dy":-63,"fontSize":21}},
{"transform":[{"filter":"datum.g=='Y'"}],"mark":{"type":"text","angle":270,"dx":-18,"dy":-105,"fontSize":52}},
{"transform":[{"filter":"datum.g=='L'"}],"mark":{"type":"text","angle":270,"dx":11,"dy":-121,"fontSize":42}},
{"transform":[{"filter":"datum.g=='n'"}],"mark":{"type":"text","angle":270,"dx":25,"dy":-77,"fontSize":38}},
{"transform":[{"filter":"datum.g=='m1'"}],"mark":{"type":"text","font":"Liberation Serif","fontStyle":"italic","dx":58,"dy":121,"fontSize":46}},
{"transform":[{"filter":"datum.g=='m2'"}],"mark":{"type":"text","dx":84,"dy":138,"fontSize":38}},
{"transform":[{"filter":"datum.g=='m3'"}],"mark":{"type":"text","font":"Liberation Serif","fontStyle":"italic","dx":165,"dy":24,"fontSize":46}},
{"transform":[{"filter":"datum.g=='m4'"}],"mark":{"type":"text","dx":193,"dy":41,"fontSize":38}}
]}
]},
{"width":1084,"height":854,"title":{"text":"(c)","dx":-183,"dy":112},
"resolve":{"axis":{"x":"independent","y":"independent"}},
"encoding":{"x":{"field":"L","type":"quantitative","axis":null,"scale":{"domain":[0,100],"nice":false}},"y":{"field":"r","type":"quantitative","axis":null,"scale":{"domain":[-12,-2],"nice":false,"zero":false}}},
"layer":[
{"data":{"name":"curvesC"},"mark":{"type":"line","color":"#111111","strokeWidth":1.5},
"encoding":{"x":{"field":"L","type":"quantitative","scale":{"domain":[0,100],"nice":false},"axis":{"orient":"bottom","values":[0,10,20,30,40,50,60,70,80,90,100],"labelPadding":24}},
"y":{"field":"r","type":"quantitative","scale":{"domain":[-12,-2],"nice":false,"zero":false},"axis":{"orient":"left","values":[-12,-11,-10,-9,-8,-7,-6,-5,-4,-3,-2],"labelPadding":14}},
"strokeDash":{"field":"s","type":"nominal","legend":null,"scale":{"domain":["9","7","6"],"range":[[10,5,2,5],[1,0],[10,6]]}}}},
{"data":{"name":"curvesC"},"mark":{"type":"line","opacity":0},
"encoding":{"x":{"field":"L","type":"quantitative","scale":{"domain":[0,100],"nice":false},"axis":{"orient":"top","values":[0,10,20,30,40,50,60,70,80,90,100],"labels":false}},
"y":{"field":"r","type":"quantitative","scale":{"domain":[-12,-2],"nice":false,"zero":false},"axis":{"orient":"right","values":[-12,-11,-10,-9,-8,-7,-6,-5,-4,-3,-2],"labels":false}},"detail":{"field":"s"}}},
{"data":{"values":[{"x0":76.4,"x1":98.3,"y0":-2.22,"y1":-3.745}]},"mark":{"type":"rect","fill":"white","stroke":"#262626","strokeWidth":1.5},
"encoding":{"x":{"field":"x0","type":"quantitative","axis":null,"scale":{"domain":[0,100],"nice":false}},"x2":{"field":"x1"},"y":{"field":"y0","type":"quantitative","axis":null,"scale":{"domain":[-12,-2],"nice":false,"zero":false}},"y2":{"field":"y1"}}},
{"data":{"name":"legendLines"},"mark":{"type":"line","color":"#111111","strokeWidth":1.5},
"encoding":{"strokeDash":{"field":"s","type":"nominal","legend":null,"scale":{"domain":["9","7","6"],"range":[[10,5,2,5],[1,0],[10,6]]}}}},
{"data":{"name":"legendText"},"mark":{"type":"text","align":"left","fontSize":33,"color":"#111111"},"encoding":{"text":{"field":"t"}}},
{"data":{"values":[{"L":48.4,"r":-13.04,"t":"L"}]},"mark":{"type":"text","align":"left","baseline":"alphabetic","fontSize":33},"encoding":{"text":{"field":"t"}}},
{"data":{"values":[{"L":50.2,"r":-13.22,"t":"B"}]},"mark":{"type":"text","align":"left","baseline":"alphabetic","fontSize":24},"encoding":{"text":{"field":"t"}}},
{"data":{"values":[{"L":-8.2,"r":-7.96,"t":"log"},{"L":-8.2,"r":-6.93,"t":"(Rate)"}]},"mark":{"type":"text","align":"left","baseline":"alphabetic","angle":270,"fontSize":33},"encoding":{"text":{"field":"t"}}},
{"data":{"values":[{"L":-7.4,"r":-7.38,"t":"10"}]},"mark":{"type":"text","align":"left","baseline":"alphabetic","angle":270,"fontSize":24},"encoding":{"text":{"field":"t"}}}
]},
{"width":1414,"height":854,"title":{"text":"(b)","dx":43,"dy":41},
"encoding":{"x":{"field":"sx","type":"quantitative","axis":null,"scale":{"domain":[0,1414],"nice":false,"zero":false}},"y":{"field":"sy","type":"quantitative","axis":null,"scale":{"domain":[1853,999],"nice":false,"zero":false}}},
"layer":[
{"data":{"values":[{"b":[1,0],"a":[1,1],"z":[0.2,0.2]},{"b":[1,0],"a":[1,1],"z":[0.4,0.4]},{"b":[1,0],"a":[1,1],"z":[0.6,0.6]},{"b":[1,0],"a":[1,1],"z":[0.8,0.8]},{"b":[1,0],"a":[1,1],"z":[1,1]},{"b":[1,1],"a":[0,1],"z":[0.2,0.2]},{"b":[1,1],"a":[0,1],"z":[0.4,0.4]},{"b":[1,1],"a":[0,1],"z":[0.6,0.6]},{"b":[1,1],"a":[0,1],"z":[0.8,0.8]},{"b":[1,1],"a":[0,1],"z":[1,1]},{"b":[1,1],"a":[1,1],"z":[0,1]},{"b":[0.9,0.9],"a":[1,1],"z":[0,1]},{"b":[0.8,0.8],"a":[1,1],"z":[0,1]},{"b":[0.7,0.7],"a":[1,1],"z":[0,1]},{"b":[0.6,0.6],"a":[1,1],"z":[0,1]},{"b":[0.5,0.5],"a":[1,1],"z":[0,1]},{"b":[0.4,0.4],"a":[1,1],"z":[0,1]},{"b":[0.3,0.3],"a":[1,1],"z":[0,1]},{"b":[0.2,0.2],"a":[1,1],"z":[0,1]},{"b":[0.1,0.1],"a":[1,1],"z":[0,1]},{"b":[0,0],"a":[1,1],"z":[0,1]},{"b":[1,1],"a":[0.5,0.5],"z":[0,1]}]},
"transform":[{"window":[{"op":"row_number","as":"id"}]},{"flatten":["b","a","z"]},{"calculate":"1128-955.4*datum.b+71.5*datum.a","as":"sx"},{"calculate":"1737.8-12.8*datum.b-186.3*datum.a-391*datum.z","as":"sy"}],
"mark":{"type":"line","stroke":"#e2e2e2","strokeWidth":1.5},"encoding":{"detail":{"field":"id"}}},
{"data":{"values":[{"b":[1,0,0,1,1],"a":[0,0,1,1,0],"z":[0,0,0,0,0],"k":[0,1,2,3,4]}]},
"transform":[{"flatten":["b","a","z","k"]},{"calculate":"1128-955.4*datum.b+71.5*datum.a","as":"sx"},{"calculate":"1737.8-12.8*datum.b-186.3*datum.a-391*datum.z","as":"sy"}],
"mark":{"type":"line","fill":"#3a2aa6","stroke":"#16124a","strokeWidth":1},"encoding":{"order":{"field":"k"}}},
{"data":{"name":"meshB"},"transform":[{"flatten":["v"]},{"calculate":"[0,1]","as":"a"},{"flatten":["a"]},{"calculate":"1128-955.4*datum.v+71.5*datum.a","as":"sx"},{"calculate":"1737.8-12.8*datum.v-186.3*datum.a","as":"sy"}],
"mark":{"type":"line","stroke":"#16124a","strokeWidth":1},"encoding":{"detail":{"field":"v"}}},
{"data":{"name":"meshA"},"transform":[{"flatten":["v"]},{"calculate":"[0,1]","as":"b"},{"flatten":["b"]},{"calculate":"1128-955.4*datum.b+71.5*datum.v","as":"sx"},{"calculate":"1737.8-12.8*datum.b-186.3*datum.v","as":"sy"}],
"mark":{"type":"line","stroke":"#16124a","strokeWidth":1},"encoding":{"detail":{"field":"v"}}},
{"data":{"values":[{"b":[1,0.1,0.1,1,1],"a":[0.13,0.13,0.13,0.13,0.13],"z":[0,0,0.4,0.4,0],"k":[0,1,2,3,4]}]},
"transform":[{"flatten":["b","a","z","k"]},{"calculate":"1128-955.4*datum.b+71.5*datum.a","as":"sx"},{"calculate":"1737.8-12.8*datum.b-186.3*datum.a-391*datum.z","as":"sy"}],
"mark":{"type":"line","fill":"#3a2aa6","stroke":null},"encoding":{"order":{"field":"k"}}},
{"data":{"name":"surfB"},
"transform":[{"flatten":["a"]},{"window":[{"op":"lag","field":"a","as":"a1"},{"op":"lag","field":"z","as":"zb"}]},{"filter":"datum.a1 != null"},{"calculate":"[1,0.987,0.974,0.96,0.93,0.905,0.893,0.881,0.84,0.8,0.75,0.7,0.65,0.6,0.55,0.5,0.45,0.399,0.386,0.374,0.33,0.28,0.24,0.2,0.17,0.14,0.12,0.1,0.085,0.07,0.06,0.052,0.045]","as":"bs"},{"calculate":"slice(datum.bs,0,-1)","as":"b0"},{"calculate":"slice(datum.bs,1)","as":"b1"},{"calculate":"slice(datum.z,0,-1)","as":"f0"},{"calculate":"slice(datum.z,1)","as":"f1"},{"calculate":"slice(datum.zb,0,-1)","as":"g0"},{"calculate":"slice(datum.zb,1)","as":"g1"},{"flatten":["b0","b1","f0","f1","g0","g1"]},{"filter":"datum.f0+datum.f1+datum.g0+datum.g1>0"},{"window":[{"op":"row_number","as":"id"}]},{"calculate":"datum.f1","as":"v"},{"calculate":"[datum.b0,datum.b1,datum.b1,datum.b0,datum.b0]","as":"pb"},{"calculate":"[datum.a,datum.a,datum.a1,datum.a1,datum.a]","as":"pa"},{"calculate":"[datum.f0,datum.f1,datum.g1,datum.g0,datum.f0]","as":"pz"},{"calculate":"[0,1,2,3,4]","as":"k"},{"flatten":["pb","pa","pz","k"]},{"calculate":"1128-955.4*datum.pb+71.5*datum.pa","as":"sx"},{"calculate":"1737.8-12.8*datum.pb-186.3*datum.pa-391*datum.pz","as":"sy"}],
"mark":{"type":"line","stroke":"#111111","strokeWidth":1.3},
"encoding":{"detail":{"field":"id"},"order":{"field":"k"},"fill":{"field":"v","type":"quantitative","legend":null,"scale":{"domain":[0,0.08,0.17,0.3,0.42,0.5,0.56,0.62,0.66,0.7,0.74,0.8],"range":["#3a2aa6","#3a2aa6","#3468f0","#14a4dc","#0cb4c8","#30c498","#6fcc68","#aac840","#e8b83c","#ffb83c","#fcd030","#f8f020"]}}}},
{"data":{"name":"linesB"},"transform":[{"calculate":"[0.11,0.13,0.15,0.17,0.19,0.21,0.25,1]","as":"a"},{"flatten":["z","a"]},{"calculate":"1128-955.4*datum.b+71.5*datum.a","as":"sx"},{"calculate":"1737.8-12.8*datum.b-186.3*datum.a-391*datum.z","as":"sy"}],
"mark":{"type":"line","stroke":"#111111","strokeWidth":1},"encoding":{"detail":{"field":"b"},"order":{"field":"a"}}},
{"data":{"values":[{"b":[1,0.8,0.6,0.4,0.2,0.14,0.14,0.2,0.4,0.6,0.8,1,1],"a":[1,1,1,1,1,1,0.55,0.55,0.55,0.55,0.55,0.55,1],"z":[0.71,0.752,0.778,0.791,0.795,0.765,0.765,0.795,0.791,0.778,0.752,0.71,0.71],"k":[0,1,2,3,4,5,6,7,8,9,10,11,12]}]},
"transform":[{"flatten":["b","a","z","k"]},{"calculate":"1128-955.4*datum.b+71.5*datum.a","as":"sx"},{"calculate":"1737.8-12.8*datum.b-186.3*datum.a-391*datum.z","as":"sy"}],
"mark":{"type":"line","fill":"#000000","fillOpacity":0.16,"stroke":null},"encoding":{"order":{"field":"k"}}},
{"data":{"values":[{"b":[1,0.8,0.6,0.4,0.2,0.14,0.14,0.2,0.4,0.6,0.8,1,1],"a":[1,1,1,1,1,1,0.8,0.8,0.8,0.8,0.8,0.8,1],"z":[0.71,0.752,0.778,0.791,0.795,0.765,0.765,0.795,0.791,0.778,0.752,0.71,0.71],"k":[0,1,2,3,4,5,6,7,8,9,10,11,12]}]},
"transform":[{"flatten":["b","a","z","k"]},{"calculate":"1128-955.4*datum.b+71.5*datum.a","as":"sx"},{"calculate":"1737.8-12.8*datum.b-186.3*datum.a-391*datum.z","as":"sy"}],
"mark":{"type":"line","fill":"#000000","fillOpacity":0.2,"stroke":null},"encoding":{"order":{"field":"k"}}},
{"data":{"values":[{"b":[0.052,0.066,0.07,0.055,0.052],"a":[1,1,0.4,0.13,1],"z":[0,0.37,0.27,0.02,0],"k":[0,1,2,3,4]}]},
"transform":[{"flatten":["b","a","z","k"]},{"calculate":"1128-955.4*datum.b+71.5*datum.a","as":"sx"},{"calculate":"1737.8-12.8*datum.b-186.3*datum.a-391*datum.z","as":"sy"}],
"mark":{"type":"line","fill":"#05050c","stroke":null},"encoding":{"order":{"field":"k"}}},
{"data":{"values":[{"b":[1,1],"a":[0,0],"z":[0,1]},{"b":[1,0],"a":[0,0],"z":[0,0]},{"b":[0,0],"a":[0,1],"z":[0,0]},{"b":[1,1.022],"a":[0,0],"z":[0,0]},{"b":[1,1.022],"a":[0,0],"z":[0.2,0.2]},{"b":[1,1.022],"a":[0,0],"z":[0.4,0.4]},{"b":[1,1.022],"a":[0,0],"z":[0.6,0.6]},{"b":[1,1.022],"a":[0,0],"z":[0.8,0.8]},{"b":[1,1.022],"a":[0,0],"z":[1,1]},{"b":[1,1],"a":[0,-0.12],"z":[0,0]},{"b":[0.9,0.9],"a":[0,-0.12],"z":[0,0]},{"b":[0.8,0.8],"a":[0,-0.12],"z":[0,0]},{"b":[0.7,0.7],"a":[0,-0.12],"z":[0,0]},{"b":[0.6,0.6],"a":[0,-0.12],"z":[0,0]},{"b":[0.5,0.5],"a":[0,-0.12],"z":[0,0]},{"b":[0.4,0.4],"a":[0,-0.12],"z":[0,0]},{"b":[0.3,0.3],"a":[0,-0.12],"z":[0,0]},{"b":[0.2,0.2],"a":[0,-0.12],"z":[0,0]},{"b":[0.1,0.1],"a":[0,-0.12],"z":[0,0]},{"b":[0,0],"a":[0,-0.12],"z":[0,0]},{"b":[0,-0.026],"a":[0,0],"z":[0,0]},{"b":[0,-0.026],"a":[0.5,0.5],"z":[0,0]},{"b":[0,-0.026],"a":[1,1],"z":[0,0]}]},
"transform":[{"window":[{"op":"row_number","as":"id"}]},{"flatten":["b","a","z"]},{"calculate":"1128-955.4*datum.b+71.5*datum.a","as":"sx"},{"calculate":"1737.8-12.8*datum.b-186.3*datum.a-391*datum.z","as":"sy"}],
"mark":{"type":"line","stroke":"#262626","strokeWidth":1.5},"encoding":{"detail":{"field":"id"}}},
{"data":{"values":[{"g":"zt","b":1,"a":0,"z":0,"t":"0"},{"g":"zt","b":1,"a":0,"z":0.2,"t":"0.2"},{"g":"zt","b":1,"a":0,"z":0.4,"t":"0.4"},{"g":"zt","b":1,"a":0,"z":0.6,"t":"0.6"},{"g":"zt","b":1,"a":0,"z":0.8,"t":"0.8"},{"g":"zt","b":1,"a":0,"z":1,"t":"1"},{"g":"bt","b":1,"a":0,"z":0,"t":"1"},{"g":"bt","b":0.9,"a":0,"z":0,"t":"0.9"},{"g":"bt","b":0.8,"a":0,"z":0,"t":"0.8"},{"g":"bt","b":0.7,"a":0,"z":0,"t":"0.7"},{"g":"bt","b":0.6,"a":0,"z":0,"t":"0.6"},{"g":"bt","b":0.5,"a":0,"z":0,"t":"0.5"},{"g":"bt","b":0.4,"a":0,"z":0,"t":"0.4"},{"g":"bt","b":0.3,"a":0,"z":0,"t":"0.3"},{"g":"bt","b":0.2,"a":0,"z":0,"t":"0.2"},{"g":"bt","b":0.1,"a":0,"z":0,"t":"0.1"},{"g":"bt","b":0,"a":0,"z":0,"t":"0"},{"g":"at","b":0,"a":0,"z":0,"t":"0"},{"g":"at","b":0,"a":0.5,"z":0,"t":"0.5"},{"g":"at","b":0,"a":1,"z":0,"t":"1"},{"g":"e1","b":1,"a":0,"z":1,"t":"×10"},{"g":"e2","b":1,"a":0,"z":1,"t":"-3"},{"g":"Y","b":1,"a":0,"z":0.5,"t":"Y"},{"g":"L","b":1,"a":0,"z":0.5,"t":"L"},{"g":"n","b":1,"a":0,"z":0.5,"t":"11"},{"g":"m1","b":0.5,"a":0,"z":0,"t":"μ"},{"g":"m2","b":0.5,"a":0,"z":0,"t":"B"},{"g":"m3","b":0,"a":0,"z":0,"t":"μ"},{"g":"m4","b":0,"a":0,"z":0,"t":"A"}]},
"transform":[{"calculate":"1128-955.4*datum.b+71.5*datum.a","as":"sx"},{"calculate":"1737.8-12.8*datum.b-186.3*datum.a-391*datum.z","as":"sy"}],
"encoding":{"text":{"field":"t"}},
"layer":[
{"transform":[{"filter":"datum.g=='zt'"}],"mark":{"type":"text","align":"right","dx":-35,"fontSize":30}},
{"transform":[{"filter":"datum.g=='bt'"}],"mark":{"type":"text","dx":-12,"dy":51,"fontSize":30}},
{"transform":[{"filter":"datum.g=='at'"}],"mark":{"type":"text","align":"left","dx":34,"dy":21,"fontSize":30}},
{"transform":[{"filter":"datum.g=='e1'"}],"mark":{"type":"text","dx":-55,"dy":-66,"fontSize":28}},
{"transform":[{"filter":"datum.g=='e2'"}],"mark":{"type":"text","dx":-19,"dy":-76,"fontSize":21}},
{"transform":[{"filter":"datum.g=='Y'"}],"mark":{"type":"text","angle":270,"dx":-18,"dy":-126,"fontSize":52}},
{"transform":[{"filter":"datum.g=='L'"}],"mark":{"type":"text","angle":270,"dx":5,"dy":-143,"fontSize":42}},
{"transform":[{"filter":"datum.g=='n'"}],"mark":{"type":"text","angle":270,"dx":17,"dy":-101,"fontSize":38}},
{"transform":[{"filter":"datum.g=='m1'"}],"mark":{"type":"text","font":"Liberation Serif","fontStyle":"italic","dx":108,"dy":103,"fontSize":46}},
{"transform":[{"filter":"datum.g=='m2'"}],"mark":{"type":"text","dx":133,"dy":116,"fontSize":38}},
{"transform":[{"filter":"datum.g=='m3'"}],"mark":{"type":"text","font":"Liberation Serif","fontStyle":"italic","dx":130,"dy":53,"fontSize":46}},
{"transform":[{"filter":"datum.g=='m4'"}],"mark":{"type":"text","dx":154,"dy":69,"fontSize":38}}
]}
]},
{"width":1084,"height":854,"title":{"text":"(d)","dx":-183,"dy":55},
"resolve":{"axis":{"x":"independent","y":"independent"}},
"encoding":{"x":{"field":"L","type":"quantitative","axis":null,"scale":{"domain":[0,100],"nice":false}},"y":{"field":"r","type":"quantitative","axis":null,"scale":{"domain":[-12,-2],"nice":false,"zero":false}}},
"layer":[
{"data":{"name":"curvesD"},"mark":{"type":"line","color":"#ff0000","strokeWidth":1.5},
"encoding":{"x":{"field":"L","type":"quantitative","scale":{"domain":[0,100],"nice":false},"axis":{"orient":"bottom","values":[0,10,20,30,40,50,60,70,80,90,100],"labelPadding":24}},
"y":{"field":"r","type":"quantitative","scale":{"domain":[-12,-2],"nice":false,"zero":false},"axis":{"orient":"left","values":[-12,-11,-10,-9,-8,-7,-6,-5,-4,-3,-2],"labelPadding":14}},
"strokeDash":{"field":"s","type":"nominal","legend":null,"scale":{"domain":["9","7","6"],"range":[[10,5,2,5],[1,0],[10,6]]}}}},
{"data":{"name":"curvesD"},"mark":{"type":"line","opacity":0},
"encoding":{"x":{"field":"L","type":"quantitative","scale":{"domain":[0,100],"nice":false},"axis":{"orient":"top","values":[0,10,20,30,40,50,60,70,80,90,100],"labels":false}},
"y":{"field":"r","type":"quantitative","scale":{"domain":[-12,-2],"nice":false,"zero":false},"axis":{"orient":"right","values":[-12,-11,-10,-9,-8,-7,-6,-5,-4,-3,-2],"labels":false}},"detail":{"field":"s"}}},
{"data":{"values":[{"x0":76.4,"x1":98.3,"y0":-2.22,"y1":-3.745}]},"mark":{"type":"rect","fill":"white","stroke":"#262626","strokeWidth":1.5},
"encoding":{"x":{"field":"x0","type":"quantitative","axis":null,"scale":{"domain":[0,100],"nice":false}},"x2":{"field":"x1"},"y":{"field":"y0","type":"quantitative","axis":null,"scale":{"domain":[-12,-2],"nice":false,"zero":false}},"y2":{"field":"y1"}}},
{"data":{"name":"legendLines"},"mark":{"type":"line","color":"#ff0000","strokeWidth":1.5},
"encoding":{"strokeDash":{"field":"s","type":"nominal","legend":null,"scale":{"domain":["9","7","6"],"range":[[10,5,2,5],[1,0],[10,6]]}}}},
{"data":{"name":"legendText"},"mark":{"type":"text","align":"left","fontSize":33,"color":"#111111"},"encoding":{"text":{"field":"t"}}},
{"data":{"values":[{"L":48.4,"r":-13.04,"t":"L"}]},"mark":{"type":"text","align":"left","baseline":"alphabetic","fontSize":33},"encoding":{"text":{"field":"t"}}},
{"data":{"values":[{"L":50.2,"r":-13.22,"t":"B"}]},"mark":{"type":"text","align":"left","baseline":"alphabetic","fontSize":24},"encoding":{"text":{"field":"t"}}},
{"data":{"values":[{"L":-8.2,"r":-7.96,"t":"log"},{"L":-8.2,"r":-6.93,"t":"(Rate)"}]},"mark":{"type":"text","align":"left","baseline":"alphabetic","angle":270,"fontSize":33},"encoding":{"text":{"field":"t"}}},
{"data":{"values":[{"L":-7.4,"r":-7.38,"t":"10"}]},"mark":{"type":"text","align":"left","baseline":"alphabetic","angle":270,"fontSize":24},"encoding":{"text":{"field":"t"}}}
]}
]
}
